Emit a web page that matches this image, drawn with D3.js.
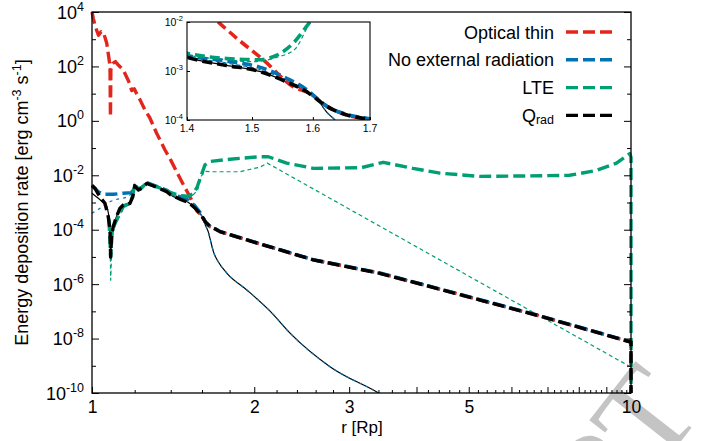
<!DOCTYPE html>
<html><head><meta charset="utf-8">
<script src="https://cdn.jsdelivr.net/npm/d3@7"></script>
<style>
body{margin:0;background:#fff;}
svg{display:block;font-family:"Liberation Sans",Arial,Helvetica,sans-serif;}
</style></head><body>
<svg id="c" width="702" height="441"></svg>
<script>
// ---------- data (r in Rp, energy deposition rate in erg cm^-3 s^-1) ----------
const xTickLabels = [1, 2, 3, 5, 10];
const xMajorTicks = [1, 2, 3, 4, 5, 6, 7, 8, 9, 10];
const yLabelExponents = [4, 2, 0, -2, -4, -6, -8, -10];
const insetXTicks = [1.4, 1.5, 1.6, 1.7];
const insetYExponents = [-2, -3, -4];
const legendLabels = ["Optical thin", "No external radiation", "LTE", "Q"];
const colors = {red: "#e3261c", blue: "#0072b2", green: "#009e73", black: "#000000"};

const redThick = [[1.000,1e4],[1.006,5.6e3],[1.015,2.8e3],[1.028,1.4e3],[1.040,1.9e3],[1.050,1.8e3],[1.065,7.1e2],[1.075,2.0e2],[1.080,1.0e2],[1.082,1.4],[1.084,79],[1.093,1.3e2],[1.105,1.5e2],[1.120,1.1e2],[1.143,74],[1.170,28],[1.185,13],[1.198,15],[1.210,10],[1.228,5.9],[1.254,2.5],[1.280,1.3],[1.318,0.35],[1.366,8.5e-2],[1.400,3.6e-2],[1.447,1.0e-2],[1.480,4.2e-3],[1.518,1.7e-3],[1.567,4.8e-4],[1.595,3.5e-4],[1.624,1.9e-4],[1.659,1.26e-4],[1.700,1.02e-4],[1.727,8.5e-5],[1.937,4.2e-5],[2.574,7.8e-6],[3.420,2.5e-6],[4.240,8.1e-7],[5.250,2.6e-7],[6.690,7.2e-8],[9.950,7.6e-9],[10.0,7.6e-9],[10.0,1e-11]];

const blueThick = [[1.000,4.4e-3],[1.010,3.5e-3],[1.027,2.5e-3],[1.049,2.0e-3],[1.095,2.0e-3],[1.143,2.2e-3],[1.185,2.3e-3],[1.200,4.3e-3],[1.219,3.0e-3],[1.236,3.5e-3],[1.263,5.4e-3],[1.300,4.4e-3],[1.376,2.8e-3],[1.400,2.1e-3],[1.460,1.6e-3],[1.512,1.2e-3],[1.556,7.1e-4],[1.589,4.2e-4],[1.608,2.7e-4],[1.624,1.9e-4],[1.659,1.3e-4],[1.700,1.05e-4],[1.727,8.7e-5],[1.937,4.3e-5],[2.574,7.9e-6],[3.420,2.6e-6],[4.240,8.3e-7],[5.250,2.7e-7],[6.690,7.4e-8],[9.950,7.8e-9],[10.0,7.8e-9]];

const greenThick = [[1.075,2.5e-4],[1.083,1.0e-5],[1.090,7.9e-5],[1.100,1.5e-4],[1.127,4.0e-4],[1.143,7.1e-4],[1.176,9.3e-4],[1.190,1.8e-3],[1.200,4.5e-3],[1.219,3.2e-3],[1.236,3.5e-3],[1.263,5.2e-3],[1.300,4.2e-3],[1.376,2.8e-3],[1.400,2.3e-3],[1.460,1.8e-3],[1.510,1.7e-3],[1.540,2.1e-3],[1.567,3.7e-3],[1.595,1.0e-2],[1.620,2.4e-2],[1.655,3.2e-2],[1.803,3.9e-2],[2.050,4.8e-2],[2.124,4.8e-2],[2.297,2.8e-2],[2.574,1.8e-2],[3.160,1.9e-2],[3.470,3.0e-2],[3.940,1.8e-2],[4.420,1.2e-2],[5.240,9.1e-3],[6.490,9.5e-3],[7.690,1.0e-2],[8.620,1.5e-2],[9.400,2.8e-2],[9.950,6.3e-2],[10.0,4.5e-2],[10.0,1e-11]];

const blackThick = [[1.000,4.1e-3],[1.013,3.3e-3],[1.035,1.6e-3],[1.057,9.3e-4],[1.072,3.0e-4],[1.080,9.8e-5],[1.083,1.0e-5],[1.087,6.3e-5],[1.095,1.3e-4],[1.110,3.0e-4],[1.127,6.2e-4],[1.143,8.1e-4],[1.176,9.3e-4],[1.190,1.6e-3],[1.200,4.1e-3],[1.219,2.9e-3],[1.236,3.3e-3],[1.263,5.0e-3],[1.300,4.1e-3],[1.376,2.5e-3],[1.400,1.9e-3],[1.460,1.3e-3],[1.512,9.8e-4],[1.556,6.0e-4],[1.589,3.8e-4],[1.608,2.6e-4],[1.624,1.9e-4],[1.659,1.26e-4],[1.700,1.02e-4],[1.727,8.5e-5],[1.937,4.2e-5],[2.574,7.8e-6],[3.420,2.5e-6],[4.240,8.1e-7],[5.250,2.6e-7],[6.690,7.2e-8],[9.950,7.6e-9],[10.0,7.6e-9],[10.0,1e-11]];

const blackThin = [[1.000,2.2e-3],[1.020,1.6e-3],[1.045,1.07e-3],[1.065,7.1e-4],[1.078,1.6e-4],[1.083,1.0e-5],[1.087,6.3e-5],[1.095,1.3e-4],[1.110,3.0e-4],[1.127,6.2e-4],[1.143,8.1e-4],[1.176,9.3e-4],[1.190,1.6e-3],[1.200,4.1e-3],[1.219,2.9e-3],[1.236,3.3e-3],[1.263,5.0e-3],[1.300,4.1e-3],[1.376,2.5e-3],[1.400,1.9e-3],[1.460,1.3e-3],[1.512,9.8e-4],[1.556,6.0e-4],[1.589,3.8e-4],[1.608,2.6e-4],[1.623,1.48e-4],[1.644,8.2e-5],[1.658,4.2e-5],[1.681,1.5e-5],[1.716,6.5e-6],[1.780,2.5e-6],[1.940,6.0e-7],[2.142,1.0e-7],[2.333,1.55e-8],[2.768,9.1e-10],[3.402,1.0e-10],[3.575,5.5e-11]];

const blueThin = [[1.000,4.0e-4],[1.035,6.2e-4],[1.065,9.3e-4],[1.095,1.2e-3],[1.160,1.6e-3],[1.185,2.2e-3],[1.200,4.2e-3],[1.219,3.0e-3],[1.236,3.4e-3],[1.263,5.1e-3],[1.300,4.2e-3],[1.376,2.6e-3],[1.400,2.0e-3],[1.460,1.45e-3],[1.512,1.07e-3],[1.556,6.5e-4],[1.589,3.9e-4],[1.608,2.5e-4],[1.623,1.48e-4],[1.644,8.2e-5],[1.658,4.2e-5],[1.681,1.5e-5],[1.716,6.5e-6],[1.780,2.5e-6],[1.940,6.0e-7],[2.142,1.0e-7],[2.333,1.55e-8],[2.768,9.1e-10],[3.402,1.0e-10],[3.575,5.5e-11]];

const greenThin = [[1.080,1.0e-4],[1.083,1.4e-6],[1.090,5.0e-5],[1.100,1.26e-4],[1.127,3.5e-4],[1.143,6.6e-4],[1.176,8.9e-4],[1.190,1.6e-3],[1.200,4.0e-3],[1.219,2.8e-3],[1.236,3.3e-3],[1.263,5.0e-3],[1.300,4.0e-3],[1.376,2.5e-3],[1.400,2.1e-3],[1.460,1.7e-3],[1.500,1.55e-3],[1.540,1.9e-3],[1.570,2.8e-3],[1.595,9.3e-3],[1.620,1.4e-2],[1.680,1.35e-2],[1.880,1.35e-2],[2.050,2.0e-2],[2.115,2.8e-2],[10.0,8.9e-10]];

// ---------- layout ----------
const svg = d3.select("#c");
const P = {l: 92, r: 631, t: 12, b: 393};
const x = d3.scaleLog().domain([1, 10]).range([P.l, P.r]);
const y = d3.scaleLog().domain([1e-10, 1e4]).range([P.b, P.t]);

// watermark (drawn beneath everything)
svg.append("text")
  .attr("transform", "translate(704,412) rotate(-52)")
  .attr("text-anchor", "end")
  .attr("font-family", "'Liberation Serif','DejaVu Serif',serif")
  .attr("font-size", 130)
  .attr("fill", "#c4c4c4")
  .text("MANUSCRIPT");

const defs = svg.append("defs");
defs.append("clipPath").attr("id", "mainClip").append("rect")
  .attr("x", P.l - 4).attr("y", P.t - 4).attr("width", P.r - P.l + 8).attr("height", P.b - P.t + 4);

const smooth = d3.curveMonotoneX, straight = d3.curveLinear;
const series = [
  {d: greenThin, c: colors.green, w: 1.2, dash: "4,3", curve: straight},
  {d: blackThin, c: colors.black, w: 1.2, dash: null, curve: smooth},
  {d: blueThin, c: colors.blue, w: 1.2, dash: "3,4", curve: smooth},
  {d: redThick, c: colors.red, w: 3.4, dash: "12,5", curve: straight},
  {d: blueThick, c: colors.blue, w: 3.4, dash: "12,5", curve: straight},
  {d: greenThick, c: colors.green, w: 3.4, dash: "12,5", curve: straight},
  {d: blackThick, c: colors.black, w: 3.4, dash: "12,5", curve: straight}
];

const gLines = svg.append("g").attr("clip-path", "url(#mainClip)");
series.forEach(s => {
  const line = d3.line().x(d => x(d[0])).y(d => y(d[1])).curve(s.curve);
  gLines.append("path").attr("d", line(s.d)).attr("fill", "none")
    .attr("stroke", s.c).attr("stroke-width", s.w)
    .attr("stroke-dasharray", s.dash).attr("stroke-linejoin", "round");
});

// ---------- axes ----------
function styleAxis(g) {
  g.select(".domain").remove();
  g.selectAll(".tick line").attr("stroke", "#000").attr("stroke-width", 1);
}
const xMinor = d3.range(1.2, 10, 0.2).filter(v => Math.abs(v - Math.round(v)) > 1e-6);
svg.append("g").attr("transform", `translate(0,${P.b})`)
  .call(d3.axisBottom(x).tickValues(xMinor).tickSize(-3).tickFormat(""))
  .call(styleAxis);
const gx = svg.append("g").attr("transform", `translate(0,${P.b})`)
  .call(d3.axisBottom(x).tickValues(xMajorTicks).tickSize(-6).tickPadding(8)
    .tickFormat(d => xTickLabels.includes(d) ? String(d) : ""))
  .call(styleAxis);
gx.selectAll("text").attr("font-size", 17.5).attr("fill", "#000").attr("font-family", null);

const yAll = d3.range(-10, 5).map(e => Math.pow(10, e));
const yMinor = yAll.filter(v => Math.round(Math.log10(v)) % 2 !== 0);
const yMajor = yLabelExponents.map(e => Math.pow(10, e));
svg.append("g").attr("transform", `translate(${P.l},0)`)
  .call(d3.axisLeft(y).tickValues(yMinor).tickSize(-4).tickFormat("")).call(styleAxis);
svg.append("g").attr("transform", `translate(${P.l},0)`)
  .call(d3.axisLeft(y).tickValues(yMajor).tickSize(-7).tickFormat("")).call(styleAxis);
svg.append("g").attr("transform", `translate(${P.r},0)`)
  .call(d3.axisRight(y).tickValues(yMinor).tickSize(-4).tickFormat("")).call(styleAxis);
svg.append("g").attr("transform", `translate(${P.r},0)`)
  .call(d3.axisRight(y).tickValues(yMajor).tickSize(-7).tickFormat("")).call(styleAxis);

yLabelExponents.forEach(e => {
  const t = svg.append("text").attr("x", 84).attr("y", y(Math.pow(10, e)) + 6.5)
    .attr("text-anchor", "end").attr("font-size", 18);
  t.append("tspan").text("10");
  t.append("tspan").attr("dy", -8).attr("font-size", 12.5).text(String(e));
});

// frame
svg.append("rect").attr("x", P.l).attr("y", P.t).attr("width", P.r - P.l).attr("height", P.b - P.t)
  .attr("fill", "none").attr("stroke", "#000").attr("stroke-width", 1.3);

// axis titles
const yt = svg.append("text").attr("transform", `translate(28,${(P.t + P.b) / 2}) rotate(-90)`)
  .attr("text-anchor", "middle").attr("font-size", 18);
yt.append("tspan").text("Energy deposition rate [erg cm");
yt.append("tspan").attr("baseline-shift", "super").attr("font-size", 12.5).text("-3");
yt.append("tspan").text(" s");
yt.append("tspan").attr("baseline-shift", "super").attr("font-size", 12.5).text("-1");
yt.append("tspan").text("]");
svg.append("text").attr("x", 362).attr("y", 433).attr("text-anchor", "middle")
  .attr("font-size", 17).text("r [Rp]");

// ---------- legend ----------
const legendColors = [colors.red, colors.blue, colors.green, colors.black];
legendLabels.forEach((lab, i) => {
  const cy = 32 + i * 27.8;
  const t = svg.append("text").attr("x", 554).attr("y", cy + 6.5).attr("text-anchor", "end").attr("font-size", 18);
  t.append("tspan").text(lab);
  if (lab === "Q") t.append("tspan").attr("font-size", 12.5).attr("dy", 2).text("rad");
  svg.append("line").attr("x1", 566).attr("x2", 615).attr("y1", cy).attr("y2", cy)
    .attr("stroke", legendColors[i]).attr("stroke-width", 3.4).attr("stroke-dasharray", "12,5");
});

// ---------- inset ----------
const I = {l: 187, r: 370, t: 22, b: 120};
const xi = d3.scaleLog().domain([1.4, 1.7]).range([I.l, I.r]);
const yi = d3.scaleLog().domain([1e-4, 1e-2]).range([I.b, I.t]);
svg.append("rect").attr("x", I.l).attr("y", I.t).attr("width", I.r - I.l).attr("height", I.b - I.t).attr("fill", "#fff");
defs.append("clipPath").attr("id", "insetClip").append("rect")
  .attr("x", I.l).attr("y", I.t).attr("width", I.r - I.l).attr("height", I.b - I.t);
const lineI = d3.line().x(d => xi(d[0])).y(d => yi(d[1])).curve(d3.curveMonotoneX);
const gI = svg.append("g").attr("clip-path", "url(#insetClip)");
series.forEach(s => {
  gI.append("path").attr("d", lineI(s.d)).attr("fill", "none")
    .attr("stroke", s.c).attr("stroke-width", s.w > 2 ? 3.6 : 1.2)
    .attr("stroke-dasharray", s.dash ? (s.w > 2 ? "10,5" : "4,3") : null);
});
svg.append("g").attr("transform", `translate(0,${I.b})`)
  .call(d3.axisBottom(xi).tickValues(insetXTicks).tickSize(-3).tickFormat("")).call(styleAxis);
svg.append("g").attr("transform", `translate(${I.l},0)`)
  .call(d3.axisLeft(yi).tickValues(insetYExponents.map(e => Math.pow(10, e))).tickSize(-3).tickFormat("")).call(styleAxis);
svg.append("rect").attr("x", I.l).attr("y", I.t).attr("width", I.r - I.l).attr("height", I.b - I.t)
  .attr("fill", "none").attr("stroke", "#000").attr("stroke-width", 1.1);
insetYExponents.forEach(e => {
  const t = svg.append("text").attr("x", 183).attr("y", yi(Math.pow(10, e)) + 4)
    .attr("text-anchor", "end").attr("font-size", 10.5);
  t.append("tspan").text("10");
  t.append("tspan").attr("dy", -5).attr("font-size", 7.5).text(String(e));
});
insetXTicks.forEach(v => {
  svg.append("text").attr("x", xi(v)).attr("y", 132).attr("text-anchor", "middle")
    .attr("font-size", 10.5).text(v.toFixed(1));
});
</script>
</body></html>
